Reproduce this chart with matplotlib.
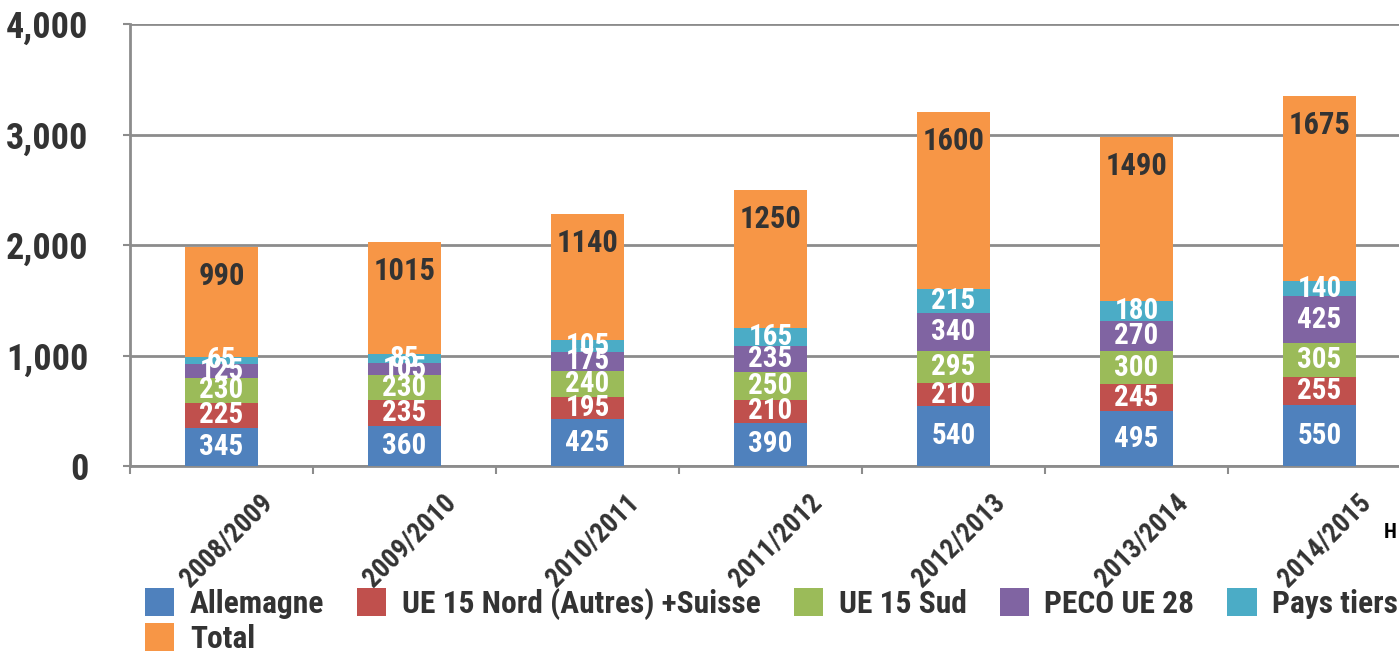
import numpy as np
import matplotlib
matplotlib.use("Agg")
import matplotlib.pyplot as plt
from matplotlib.patches import Patch
import matplotlib.transforms as mtransforms

plt.rcParams['font.family'] = ['Roboto Condensed', 'Open Sans Condensed',
                               'IBM Plex Sans Condensed', 'DejaVu Sans']

years = ["2008/2009", "2009/2010", "2010/2011", "2011/2012",
         "2012/2013", "2013/2014", "2014/2015"]
allemagne = [345, 360, 425, 390, 540, 495, 550]
nord = [225, 235, 195, 210, 210, 245, 255]
sud = [230, 230, 240, 250, 295, 300, 305]
peco = [125, 105, 175, 235, 340, 270, 425]
tiers = [65, 85, 105, 165, 215, 180, 140]
total = [990, 1015, 1140, 1250, 1600, 1490, 1675]

names = ["Allemagne", "UE 15 Nord (Autres) +Suisse", "UE 15 Sud",
         "PECO UE 28", "Pays tiers", "Total"]
colors = ["#4F81BD", "#C0504D", "#9BBB59", "#8064A2", "#4BACC6", "#F79646"]
series = [allemagne, nord, sud, peco, tiers, total]

W, H = 1399, 656
fig = plt.figure(figsize=(W / 100, H / 100), dpi=100)
ax = fig.add_axes([130 / W, (H - 466) / H, (W - 130) / W, (466 - 24) / H])

x = np.arange(len(years))
bottom = np.zeros(len(years))
dark = "#333333"
grid = "#8c8c8c"
for vals, col, name in zip(series, colors, names):
    vals = np.array(vals, dtype=float)
    ax.bar(x, vals, 0.40, bottom=bottom, color=col, zorder=3)
    for xi, b, v in zip(x, bottom, vals):
        if name == "Total":
            ax.annotate(str(int(v)), (xi, b + v), xytext=(0, -10),
                        textcoords="offset points", ha="center", va="top",
                        color=dark, fontsize=22, fontweight="bold", zorder=4)
        else:
            ax.text(xi, b + v / 2, str(int(v)), ha="center", va="center",
                    color="white", fontsize=21, fontweight="bold", zorder=4)
    bottom += vals

ax.set_yticks([0, 1000, 2000, 3000, 4000])
ax.set_yticklabels(["0", "1,000", "2,000", "3,000", "4,000"])
ax.yaxis.grid(True, color=grid, linewidth=2, zorder=0)
ax.tick_params(axis="y", length=5, width=1.5, color=grid, pad=25,
               labelsize=26, labelcolor=dark)
for lab in ax.get_yticklabels():
    lab.set_fontweight("bold")

ax.set_xticks(x)
ax.set_xticklabels(years, rotation=45, ha="right", rotation_mode="anchor",
                   fontsize=19.5, fontweight="bold", color=dark)
ax.set_xticks(np.arange(-0.5, 8, 1), minor=True)
ax.tick_params(axis="x", which="major", length=0, pad=0)
ax.tick_params(axis="x", which="minor", length=6, width=1.5, color=grid)
offset = mtransforms.ScaledTranslation(38 / 100, -23 / 100, fig.dpi_scale_trans)
for lab in ax.get_xticklabels():
    lab.set_transform(lab.get_transform() + offset)

# limits after the ticks, so the minor ticks do not widen the view
ax.set_xlim(-0.5, (W - 130) / 183 - 0.5)
ax.set_ylim(0, 4000)

for s in ["top", "right"]:
    ax.spines[s].set_visible(False)
ax.spines["left"].set_color(grid)
ax.spines["left"].set_linewidth(2)
ax.spines["bottom"].set_color(grid)
ax.spines["bottom"].set_linewidth(2)

handles = [Patch(facecolor=c, label=n) for c, n in zip(colors, names)]
order = [0, 5, 1, 2, 3, 4]
fig.legend([handles[i] for i in order], [names[i] for i in order],
           loc="upper left", bbox_to_anchor=(145 / W, 1 - 588 / H), ncol=5,
           frameon=False, handlelength=0.92, handleheight=1.0,
           handletextpad=0.5, columnspacing=1.05, labelspacing=0.12,
           borderpad=0, borderaxespad=0,
           prop={"size": 22.7, "weight": "bold"}, labelcolor=dark)

fig.text(1384 / W, 1 - 532 / H, "H", ha="left", va="center",
         fontsize=15, fontweight="bold", color="black")

fig.savefig("out.png", dpi=100)
